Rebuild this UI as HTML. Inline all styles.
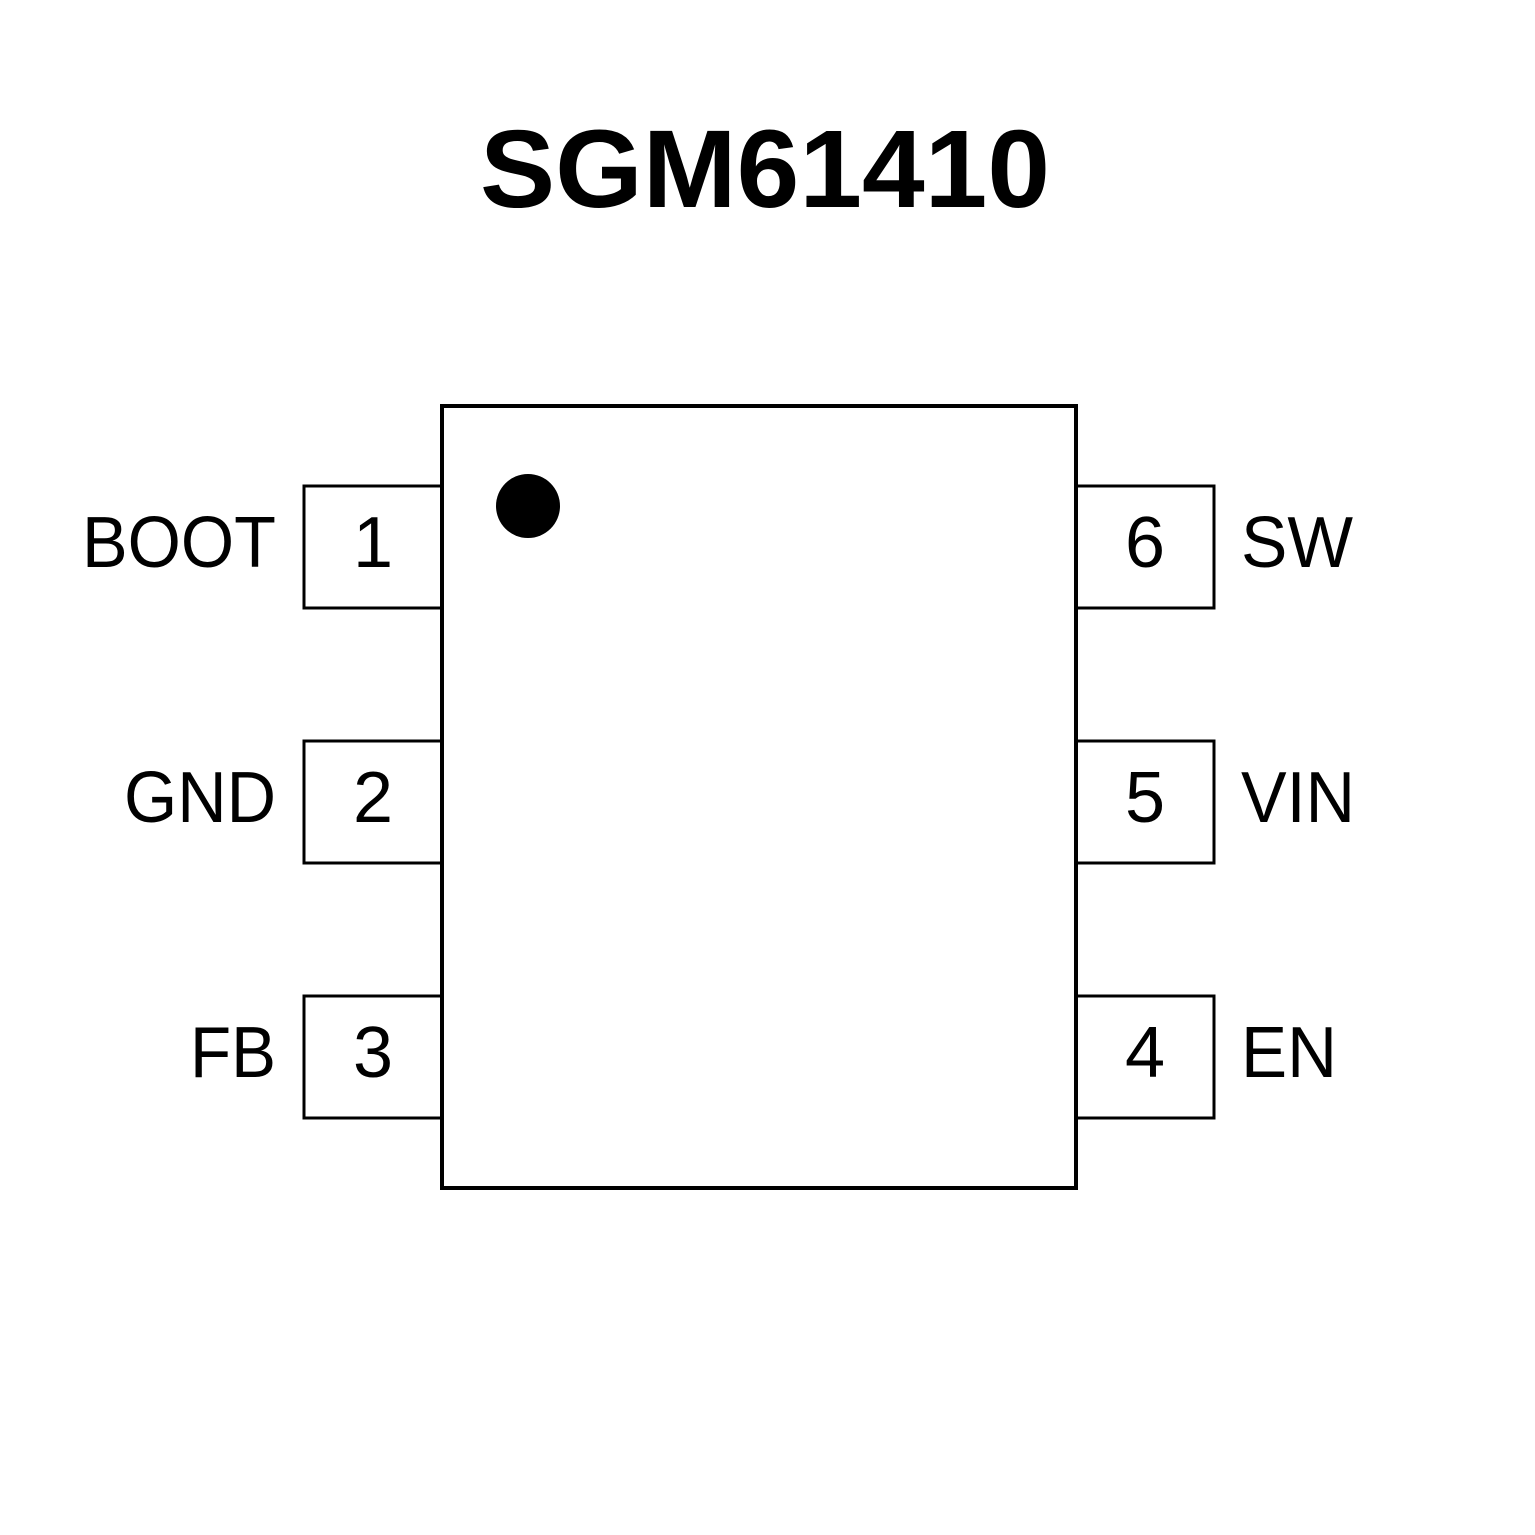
<!DOCTYPE html>
<html><head><meta charset="utf-8"><style>
html,body{margin:0;padding:0;background:#fff;}
svg{display:block;}
text{font-family:"Liberation Sans",Arial,sans-serif;fill:#000;}
</style></head><body>
<svg width="1535" height="1535" viewBox="0 0 1535 1535" xmlns="http://www.w3.org/2000/svg">
<rect width="1535" height="1535" fill="#fff"/>
<text x="765" y="207" text-anchor="middle" font-size="110" font-weight="bold" textLength="570" lengthAdjust="spacingAndGlyphs">SGM61410</text>
<g fill="none" stroke="#000">
<rect x="442" y="406" width="634" height="782" stroke-width="4"/>
<rect x="304" y="486" width="138" height="122" stroke-width="3"/>
<rect x="304" y="741" width="138" height="122" stroke-width="3"/>
<rect x="304" y="996" width="138" height="122" stroke-width="3"/>
<rect x="1076" y="486" width="138" height="122" stroke-width="3"/>
<rect x="1076" y="741" width="138" height="122" stroke-width="3"/>
<rect x="1076" y="996" width="138" height="122" stroke-width="3"/>
</g>
<circle cx="528" cy="506" r="32" fill="#000"/>
<g font-size="72">
<text x="373" y="567" text-anchor="middle">1</text>
<text x="373" y="822" text-anchor="middle">2</text>
<text x="373" y="1077" text-anchor="middle">3</text>
<text x="1145" y="567" text-anchor="middle">6</text>
<text x="1145" y="822" text-anchor="middle">5</text>
<text x="1145" y="1077" text-anchor="middle">4</text>
<text x="82" y="567" textLength="194" lengthAdjust="spacingAndGlyphs">BOOT</text>
<text x="124" y="822" textLength="152" lengthAdjust="spacingAndGlyphs">GND</text>
<text x="190" y="1077" textLength="86" lengthAdjust="spacingAndGlyphs">FB</text>
<text x="1241" y="567" textLength="112" lengthAdjust="spacingAndGlyphs">SW</text>
<text x="1241" y="822" textLength="114" lengthAdjust="spacingAndGlyphs">VIN</text>
<text x="1241" y="1077" textLength="96" lengthAdjust="spacingAndGlyphs">EN</text>
</g>
</svg>
</body></html>
